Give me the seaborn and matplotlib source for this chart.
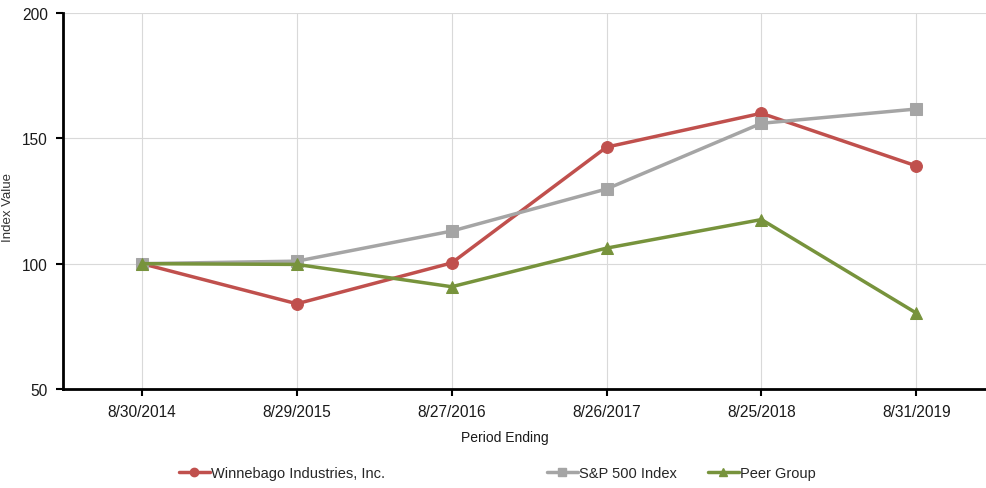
import matplotlib
matplotlib.use("Agg")
import matplotlib.pyplot as plt
from matplotlib.lines import Line2D
import seaborn as sns
import pandas as pd
import numpy as np

periods = ["8/30/2014", "8/29/2015", "8/27/2016", "8/26/2017", "8/25/2018", "8/31/2019"]
winnebago = [100, 84, 100.3, 146.5, 160, 139]
sp500 = [100, 101, 113, 129.8, 156, 161.7]
peer = [100, 99.7, 90.8, 106.2, 117.6, 80.3]

series_names = ["Winnebago Industries, Inc.", "S&P 500 Index", "Peer Group"]
colors = ["#C0504D", "#A5A5A5", "#77933C"]
markers = ["o", "s", "^"]

sns.set_theme(style="white")
plt.rcParams['font.family'] = ['Liberation Sans', 'DejaVu Sans']

W, H = 986, 489
fig = plt.figure(figsize=(W / 100, H / 100), dpi=100)
ax = fig.add_axes([63 / W, 1 - 390 / H, 923 / W, 376 / H])

pos = np.arange(len(periods))
for name, vals, c, m in zip(series_names, [winnebago, sp500, peer], colors, markers):
    df = pd.DataFrame({"x": pos, "y": vals})
    sns.lineplot(data=df, x="x", y="y", ax=ax, color=c, marker=m, markersize=8.5,
                 markeredgecolor=c, linewidth=2.5, label=name, sort=False, legend=False)

ax.set_xlim(-0.51, 5.45)
ax.set_ylim(50, 200)
ax.set_yticks([50, 100, 150, 200])
ax.set_xticks(pos)
ax.set_xticklabels(periods)
ax.grid(True, color="#D9D9D9", linewidth=0.8)
ax.set_axisbelow(True)
for s in ["top", "right"]:
    ax.spines[s].set_visible(False)
for s in ["left", "bottom"]:
    ax.spines[s].set_color("black")
    ax.spines[s].set_linewidth(2)
ax.tick_params(axis="both", which="both", direction="out", length=5, width=1.5,
               color="black", labelsize=11.2, labelcolor="#1a1a1a", pad=6,
               bottom=True, left=True)
ax.set_xlabel("Period Ending", fontsize=10, color="#1a1a1a")
ax.xaxis.set_label_coords((505 - 63) / 923, (390 - 431) / 376)
ax.set_ylabel("Index Value", fontsize=9.5, color="#333333")
ax.yaxis.set_label_coords((14 - 63) / 923, (390 - 208) / 376)

starts = [179, 547, 708]
for name, c, m, x0 in zip(series_names, colors, markers, starts):
    h = Line2D([], [], color=c, marker=m, markersize=6, markeredgecolor=c, linewidth=2.5)
    fig.legend([h], [name], loc="center left", bbox_to_anchor=(x0 / W, 1 - 474 / H),
               frameon=False, fontsize=10.5, handlelength=2.1, handletextpad=0.1,
               borderpad=0, borderaxespad=0)

fig.savefig("out.png", dpi=100)
